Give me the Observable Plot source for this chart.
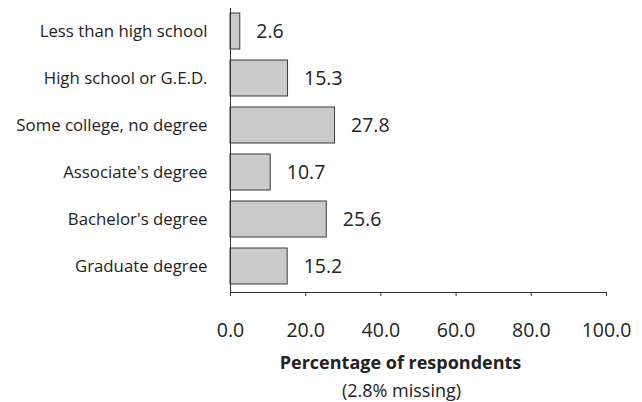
<!DOCTYPE html>
<html><head><meta charset="utf-8">
<script src="https://cdn.jsdelivr.net/npm/d3@7"></script>
<script src="https://cdn.jsdelivr.net/npm/@observablehq/plot@0.6"></script>
<style>
html,body{margin:0;padding:0;background:#fff;}
#chart svg{display:block;}
</style>
</head><body><div id="chart"></div>
<script>
const categories = ["Less than high school","High school or G.E.D.","Some college, no degree","Associate's degree","Bachelor's degree","Graduate degree"];
const values = [2.6, 15.3, 27.8, 10.7, 25.6, 15.2];
const xTicks = [0, 20, 40, 60, 80, 100];
const axisTitle = "Percentage of respondents";
const axisNote = "(2.8% missing)";

const data = categories.map((c, i) => ({category: c, value: values[i]}));
const font = "'Open Sans', sans-serif";

const chart = Plot.plot({
  width: 642,
  height: 402,
  marginTop: 8,
  marginLeft: 230,
  marginRight: 36,
  marginBottom: 110,
  style: {fontFamily: font, color: "#222", background: "#fff"},
  x: {domain: [0, 100], range: [230, 606]},
  y: {domain: categories, range: [7.5, 289.5], paddingInner: 0.23, paddingOuter: 0.115},
  marks: [
    Plot.barX(data, {y: "category", x: "value", fill: "#cbcbcb", stroke: "#3a3a3a", strokeWidth: 1}),
    Plot.text(data, {y: "category", x: "value", text: d => d.value.toFixed(1), textAnchor: "start", dx: 16, fontSize: 19.5, fill: "#222"}),
    Plot.frame({anchor: "left", stroke: "#333"}),
    Plot.frame({anchor: "bottom", stroke: "#333"}),
    Plot.axisX({ticks: xTicks, tickSize: 4, tickPadding: 27, tickFormat: d => d.toFixed(1), fontSize: 19.5, stroke: "#333", fill: "#222", label: null}),
    Plot.axisY({tickSize: 0, tickPadding: 23, fontSize: 16.8, fill: "#222", label: null}),
    Plot.text([axisTitle], {frameAnchor: "bottom", lineAnchor: "middle", dx: -18, dy: 71, fontSize: 18, fontWeight: "bold", fill: "#222"}),
    Plot.text([axisNote], {frameAnchor: "bottom", lineAnchor: "middle", dx: -17, dy: 98.5, fontSize: 18, fill: "#222"})
  ]
});
document.getElementById("chart").appendChild(chart);
</script>
</body></html>
